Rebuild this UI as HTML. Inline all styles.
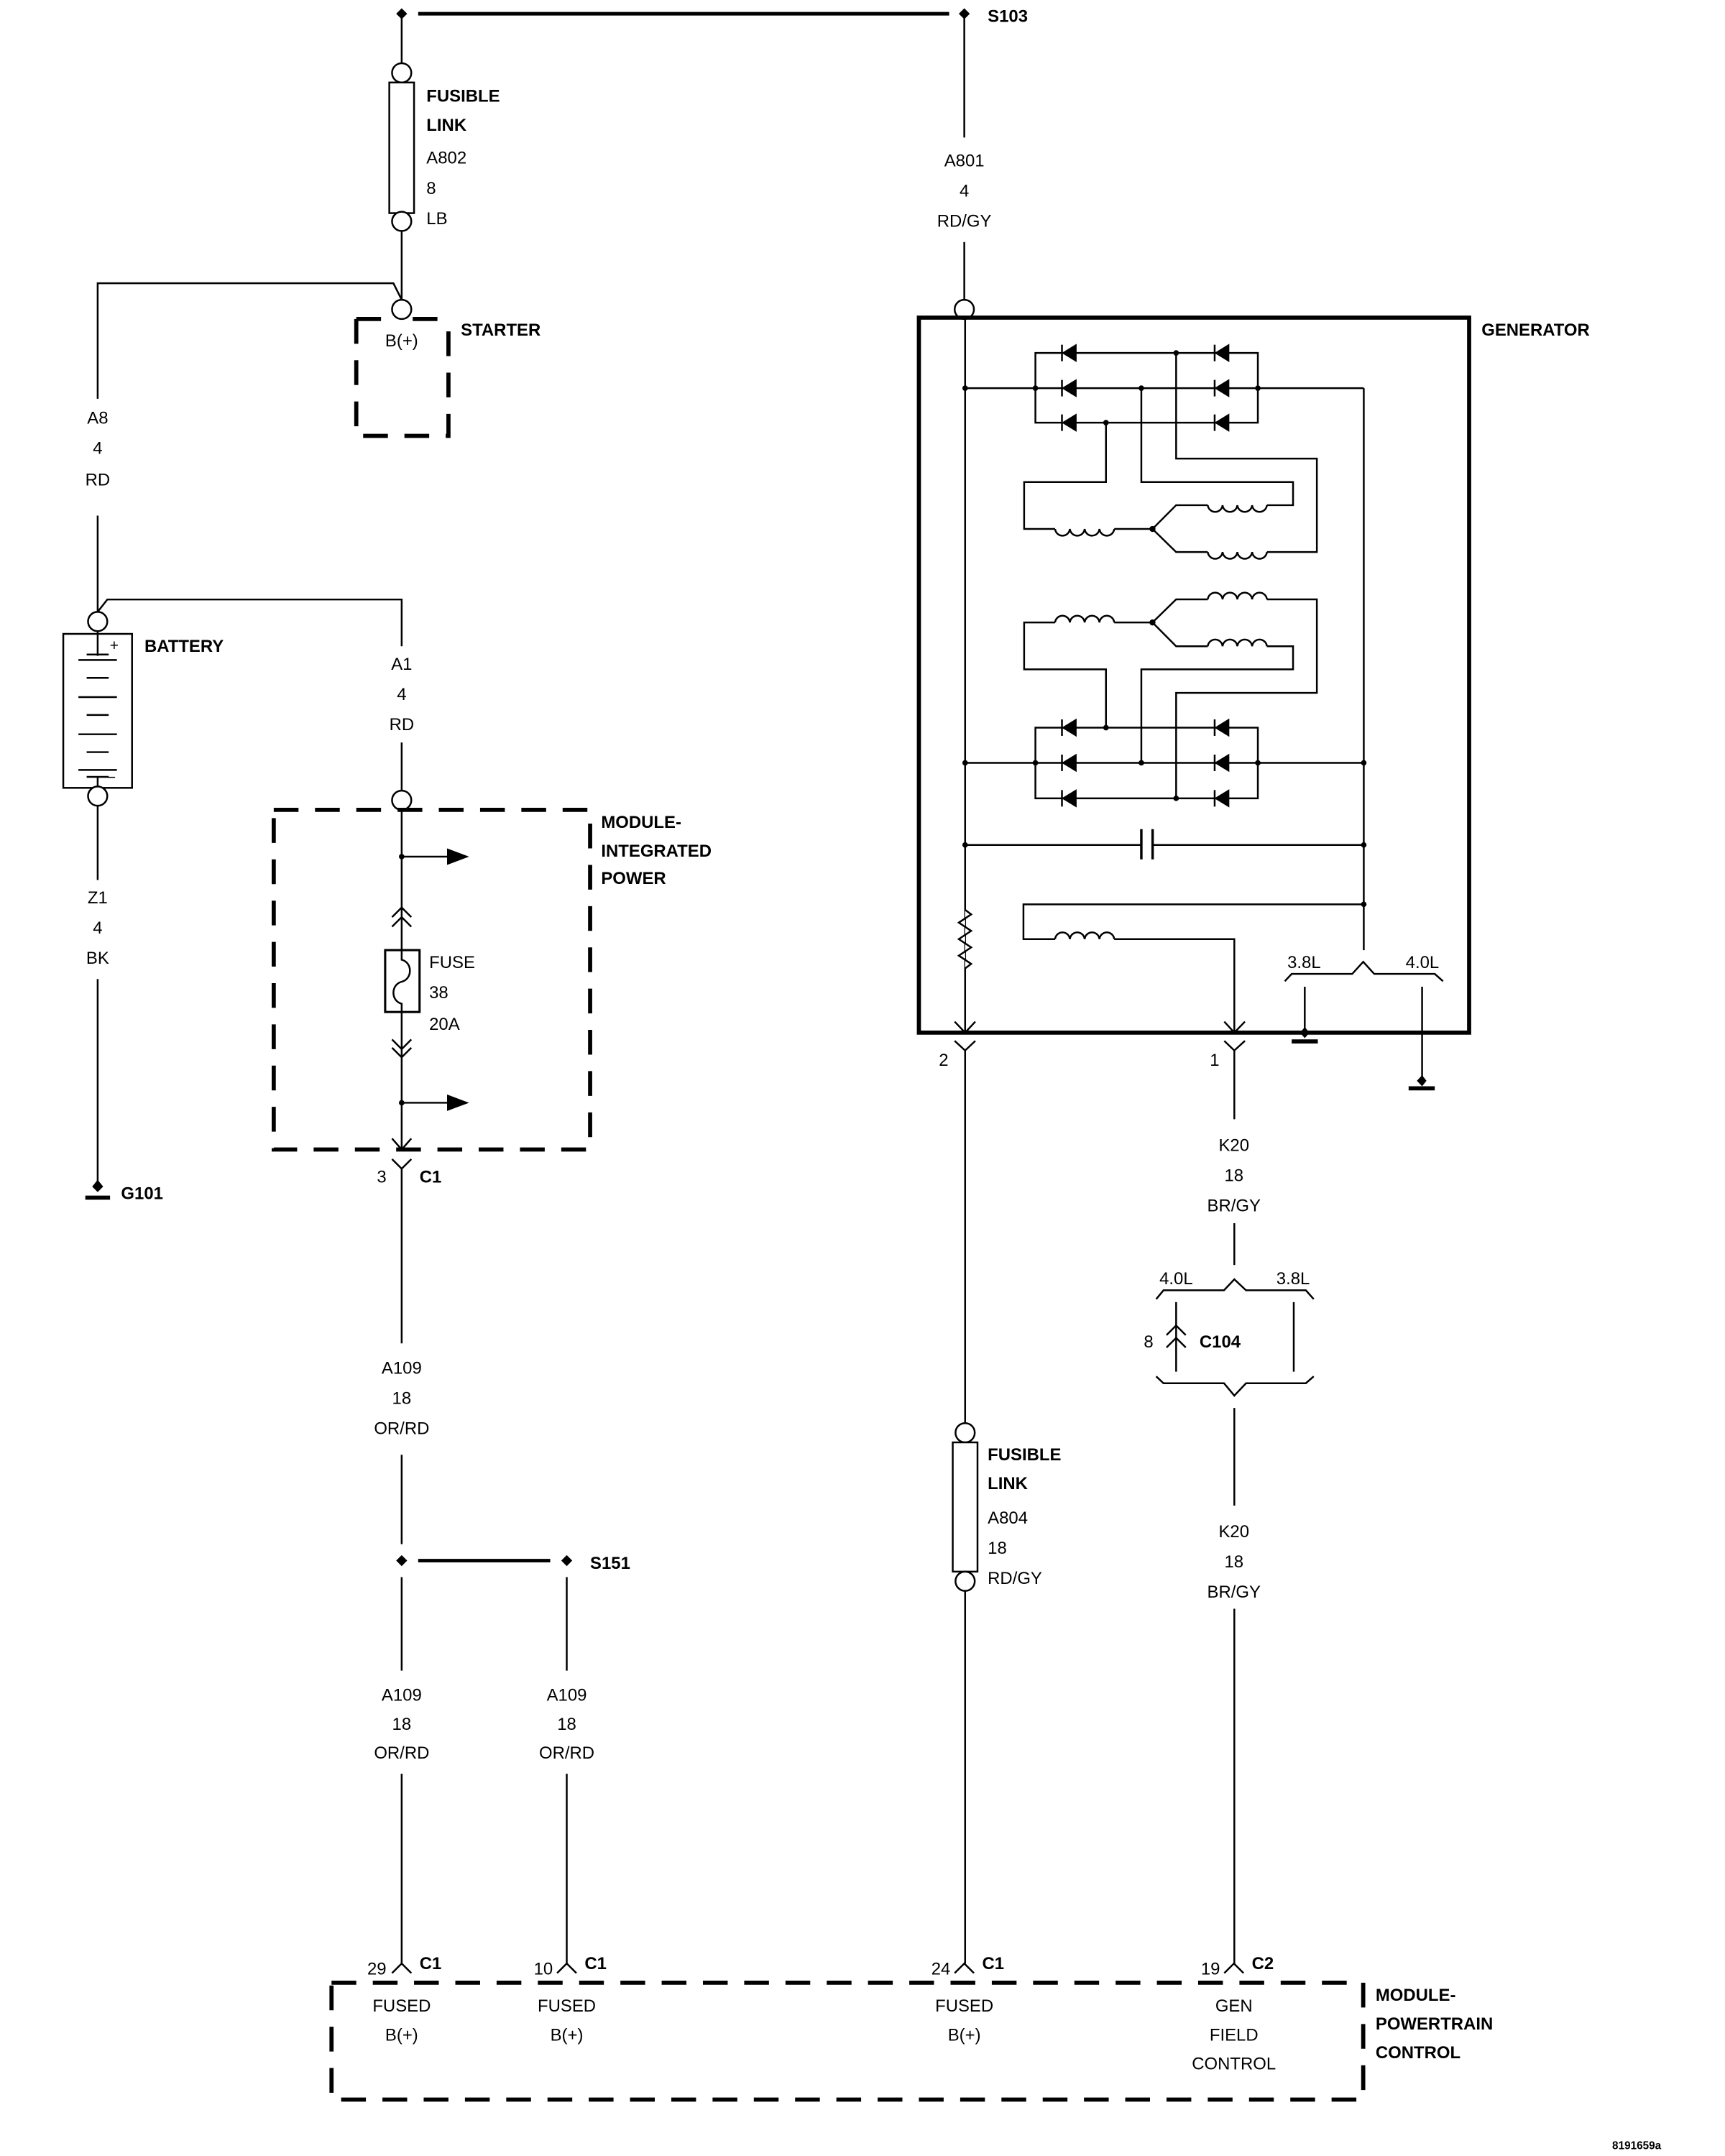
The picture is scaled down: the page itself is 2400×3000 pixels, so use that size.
<!DOCTYPE html>
<html><head><meta charset="utf-8"><style>
html,body{margin:0;padding:0;background:#fff}
svg{display:block}
text{font-family:"Liberation Sans",Arial,sans-serif;font-size:12.5px;fill:#000}
.b{font-weight:bold}
</style></head><body>
<svg width="2400" height="3000" viewBox="0 0 1254 1568" preserveAspectRatio="none" xmlns="http://www.w3.org/2000/svg">
<g fill="none" stroke="#000" stroke-width="1.3">
<line x1="304" y1="10" x2="690" y2="10" stroke-width="2.6"/>
<line x1="292" y1="10" x2="292" y2="46"/>
<circle cx="292" cy="53" r="7" fill="#fff"/>
<rect x="283" y="60" width="18" height="95" fill="#fff"/>
<circle cx="292" cy="161" r="7" fill="#fff"/>
<line x1="292" y1="168" x2="292" y2="218"/>
<circle cx="292" cy="225" r="7" fill="#fff"/>
<polyline points="71,290 71,206 286,206 292,218"/>
<path d="M259,232 H284 M300,232 H326 M259,232 V317 H326 V232" stroke-width="3" stroke-dasharray="18,12"/>
<line x1="71" y1="375" x2="71" y2="445"/>
<circle cx="71" cy="452" r="7" fill="#fff"/>
<polyline points="71,445 78,436 292,436 292,470"/>
<rect x="46" y="461" width="50" height="112"/>
<line x1="71" y1="459" x2="71" y2="477"/>
<line x1="71" y1="565" x2="71" y2="572"/>
<circle cx="71" cy="579" r="7" fill="#fff"/>
<line x1="71" y1="586" x2="71" y2="640"/>
<line x1="71" y1="712" x2="71" y2="862"/>
<line x1="62" y1="871" x2="80" y2="871" stroke-width="3"/>
<line x1="292" y1="540" x2="292" y2="575"/>
<circle cx="292" cy="582" r="7" fill="#fff"/>
<rect x="199" y="589" width="230" height="247" stroke-width="3" stroke-dasharray="18,12"/>
<line x1="292" y1="589" x2="292" y2="691"/>
<line x1="292" y1="736" x2="292" y2="836"/>
<line x1="292" y1="623" x2="325" y2="623"/>
<line x1="292" y1="802" x2="325" y2="802"/>
<polyline points="285,667 292,660 299,667"/><polyline points="285,674 292,667 299,674"/>
<polyline points="285,756 292,763 299,756"/><polyline points="285,762 292,769 299,762"/>
<rect x="280" y="691" width="25" height="45" stroke-width="1.6"/>
<path d="M292,691 V698 C300,700 300,712 292,714 C284,716 284,728 292,730 V736"/>
<polyline points="285,828 292,836 299,828"/>
<polyline points="285,843 292,850 299,843"/>
<line x1="292" y1="850" x2="292" y2="977"/>
<line x1="292" y1="1058" x2="292" y2="1123"/>
<line x1="304" y1="1135" x2="400" y2="1135" stroke-width="2.6"/>
<line x1="292" y1="1147" x2="292" y2="1215"/>
<line x1="412" y1="1147" x2="412" y2="1215"/>
<line x1="292" y1="1290" x2="292" y2="1428"/>
<line x1="412" y1="1290" x2="412" y2="1428"/>
<polyline points="285,1435 292,1428 299,1435"/>
<polyline points="405,1435 412,1428 419,1435"/>
<polyline points="694,1435 701,1428 708,1435"/>
<polyline points="890,1435 897,1428 904,1435"/>
<rect x="241" y="1442" width="750" height="85" stroke-width="3" stroke-dasharray="18,12"/>
<line x1="701" y1="10" x2="701" y2="100"/>
<line x1="701" y1="176" x2="701" y2="218"/>
<circle cx="701" cy="225" r="7" fill="#fff"/>
<rect x="668" y="231" width="400" height="520" stroke-width="3"/>
<line x1="701.6" y1="232" x2="701.6" y2="751"/>
<polyline points="855,256.7 752.7,256.7 752.7,307.4 914.4,307.4 914.4,256.7 855,256.7"/>
<line x1="701.6" y1="282.3" x2="991.4" y2="282.3"/>
<line x1="991.4" y1="282.3" x2="991.4" y2="691"/>
<polyline points="804,307.4 804,350.6 744.5,350.6 744.5,384.7 767,384.7"/>
<polyline points="810,384.7 837.8,384.7 855,367.4 878,367.4"/>
<polyline points="837.8,384.7 855,401.5 878,401.5"/>
<polyline points="829.7,282.3 829.7,350.6 940,350.6 940,367.4 921,367.4"/>
<polyline points="855,256.7 855,333.5 957.3,333.5 957.3,401.5 921,401.5"/>
<path d="M767,384.7 a5.4,5.4 0 0 0 10.75,0 a5.4,5.4 0 0 0 10.75,0 a5.4,5.4 0 0 0 10.75,0 a5.4,5.4 0 0 0 10.75,0"/>
<path d="M878,367.4 a5.4,5.4 0 0 0 10.75,0 a5.4,5.4 0 0 0 10.75,0 a5.4,5.4 0 0 0 10.75,0 a5.4,5.4 0 0 0 10.75,0"/>
<path d="M878,401.5 a5.4,5.4 0 0 0 10.75,0 a5.4,5.4 0 0 0 10.75,0 a5.4,5.4 0 0 0 10.75,0 a5.4,5.4 0 0 0 10.75,0"/>
<polyline points="767,452.7 744.5,452.7 744.5,486.8 804,486.8 804,529.2"/>
<polyline points="810,452.7 837.8,452.7 855,435.9 878,435.9"/>
<polyline points="837.8,452.7 855,470 878,470"/>
<polyline points="921,435.9 957.3,435.9 957.3,503.9 855,503.9 855,580.6"/>
<polyline points="921,470 940,470 940,486.8 829.7,486.8 829.7,554.8"/>
<path d="M767,452.7 a5.4,5.4 0 0 1 10.75,0 a5.4,5.4 0 0 1 10.75,0 a5.4,5.4 0 0 1 10.75,0 a5.4,5.4 0 0 1 10.75,0"/>
<path d="M878,435.9 a5.4,5.4 0 0 1 10.75,0 a5.4,5.4 0 0 1 10.75,0 a5.4,5.4 0 0 1 10.75,0 a5.4,5.4 0 0 1 10.75,0"/>
<path d="M878,470 a5.4,5.4 0 0 1 10.75,0 a5.4,5.4 0 0 1 10.75,0 a5.4,5.4 0 0 1 10.75,0 a5.4,5.4 0 0 1 10.75,0"/>
<polyline points="855,529.2 752.7,529.2 752.7,580.6 914.4,580.6 914.4,529.2 855,529.2"/>
<line x1="701.6" y1="554.8" x2="991.4" y2="554.8"/>
<line x1="701.6" y1="614.5" x2="829.7" y2="614.5"/>
<line x1="837.9" y1="614.5" x2="991.4" y2="614.5"/>
<line x1="829.7" y1="603" x2="829.7" y2="625" stroke-width="1.8"/>
<line x1="837.9" y1="603" x2="837.9" y2="625" stroke-width="1.8"/>
<polyline points="991.4,657.7 744,657.7 744,683 767,683"/>
<polyline points="810,683 897.3,683 897.3,751"/>
<path d="M767,683 a5.4,5.4 0 0 1 10.75,0 a5.4,5.4 0 0 1 10.75,0 a5.4,5.4 0 0 1 10.75,0 a5.4,5.4 0 0 1 10.75,0"/>
<polyline points="701.6,661.7 706,665 697,671 706,677 697,683 706,689 697,695 706,701 701.6,704.3" fill="#fff"/>
<polyline points="694,743 701.6,751 709,743"/>
<polyline points="890,743 897.3,751 905,743"/>
<polyline points="934,713.6 939,708.3 983,708.3 991,699.5 999,708.3 1043,708.3 1049,713.6"/>
<line x1="948.5" y1="717.6" x2="948.5" y2="751"/>
<line x1="939" y1="757.4" x2="958" y2="757.4" stroke-width="3"/>
<line x1="1033.8" y1="717.6" x2="1033.8" y2="785.6"/>
<line x1="1024" y1="791.5" x2="1043" y2="791.5" stroke-width="3"/>
<polyline points="694,757 701.6,764 709,757"/>
<line x1="701.6" y1="764" x2="701.6" y2="1035"/>
<polyline points="890,757 897.3,764 905,757"/>
<line x1="897.3" y1="764" x2="897.3" y2="814"/>
<line x1="897.3" y1="889.6" x2="897.3" y2="920"/>
<polyline points="840.5,944.8 845.8,938.4 889.8,938.4 897.3,930.4 905.8,938.4 949.3,938.4 955,944.8"/>
<line x1="855" y1="947" x2="855" y2="997.6"/>
<polyline points="848,971 855,964 862,971"/>
<polyline points="848,980 855,973 862,980"/>
<line x1="940.5" y1="947" x2="940.5" y2="997.6"/>
<polyline points="840.5,1001 845.8,1006 889.8,1006 897.3,1015 905.8,1006 949.3,1006 955,1001"/>
<line x1="897.3" y1="1024" x2="897.3" y2="1095"/>
<line x1="897.3" y1="1170" x2="897.3" y2="1428"/>
<circle cx="701.6" cy="1042" r="7" fill="#fff"/>
<rect x="692.6" y="1049" width="18" height="94" fill="#fff"/>
<circle cx="701.6" cy="1150" r="7" fill="#fff"/>
<line x1="701.6" y1="1157" x2="701.6" y2="1428"/>
</g>
<g fill="#000">
<polygon points="325,617 341,623 325,629"/>
<polygon points="325,796 341,802 325,808"/>
<polygon points="292,6 296,10 292,14 288,10"/>
<polygon points="701,6 705,10 701,14 697,10"/>
<polygon points="292,1131 296,1135 292,1139 288,1135"/>
<polygon points="412,1131 416,1135 412,1139 408,1135"/>
<polygon points="71,858 75,863 71,867 67,863"/>
<polygon points="948.5,747 952,751 948.5,755 945,751"/>
<polygon points="1033.8,782 1037,786 1033.8,790 1030,786"/>
<circle cx="292" cy="623" r="2"/><circle cx="292" cy="802" r="2"/>
<circle cx="701.6" cy="282.3" r="2"/><circle cx="752.7" cy="282.3" r="2"/><circle cx="914.4" cy="282.3" r="2"/>
<circle cx="855" cy="256.7" r="2"/><circle cx="829.7" cy="282.3" r="2"/><circle cx="804" cy="307.4" r="2"/>
<circle cx="837.8" cy="384.7" r="2.2"/><circle cx="837.8" cy="452.7" r="2.2"/>
<circle cx="804" cy="529.2" r="2"/><circle cx="829.7" cy="554.8" r="2"/><circle cx="855" cy="580.6" r="2"/>
<circle cx="701.6" cy="554.8" r="2"/><circle cx="752.7" cy="554.8" r="2"/><circle cx="914.4" cy="554.8" r="2"/><circle cx="991.4" cy="554.8" r="2"/>
<circle cx="701.6" cy="614.5" r="2"/><circle cx="991.4" cy="614.5" r="2"/><circle cx="991.4" cy="657.7" r="2"/>
</g>
<g fill="#000" stroke="#000" stroke-width="1.3">
<g transform="translate(0,256.7)"><polygon points="773,0 782,-5.5 782,5.5"/><line x1="772" y1="-6" x2="772" y2="6"/><polygon points="884,0 893,-5.5 893,5.5"/><line x1="883" y1="-6" x2="883" y2="6"/></g>
<g transform="translate(0,282.3)"><polygon points="773,0 782,-5.5 782,5.5"/><line x1="772" y1="-6" x2="772" y2="6"/><polygon points="884,0 893,-5.5 893,5.5"/><line x1="883" y1="-6" x2="883" y2="6"/></g>
<g transform="translate(0,307.4)"><polygon points="773,0 782,-5.5 782,5.5"/><line x1="772" y1="-6" x2="772" y2="6"/><polygon points="884,0 893,-5.5 893,5.5"/><line x1="883" y1="-6" x2="883" y2="6"/></g>
<g transform="translate(0,529.2)"><polygon points="773,0 782,-5.5 782,5.5"/><line x1="772" y1="-6" x2="772" y2="6"/><polygon points="884,0 893,-5.5 893,5.5"/><line x1="883" y1="-6" x2="883" y2="6"/></g>
<g transform="translate(0,554.8)"><polygon points="773,0 782,-5.5 782,5.5"/><line x1="772" y1="-6" x2="772" y2="6"/><polygon points="884,0 893,-5.5 893,5.5"/><line x1="883" y1="-6" x2="883" y2="6"/></g>
<g transform="translate(0,580.6)"><polygon points="773,0 782,-5.5 782,5.5"/><line x1="772" y1="-6" x2="772" y2="6"/><polygon points="884,0 893,-5.5 893,5.5"/><line x1="883" y1="-6" x2="883" y2="6"/></g>
</g>
<g stroke="#000" stroke-width="1.3">
<line x1="57" y1="480" x2="85" y2="480"/><line x1="63" y1="493" x2="79" y2="493"/>
<line x1="57" y1="507" x2="85" y2="507"/><line x1="63" y1="520" x2="79" y2="520"/>
<line x1="57" y1="534" x2="85" y2="534"/><line x1="63" y1="547" x2="79" y2="547"/>
<line x1="57" y1="560" x2="85" y2="560"/>
<line x1="63" y1="476" x2="79" y2="476"/>
<line x1="63" y1="565" x2="79" y2="565"/>
</g>
<g>
<text x="718" y="16" class="b">S103</text>
<text x="310" y="74" class="b">FUSIBLE</text>
<text x="310" y="95" class="b">LINK</text>
<text x="310" y="119">A802</text>
<text x="310" y="141">8</text>
<text x="310" y="163">LB</text>
<text x="335" y="244" class="b">STARTER</text>
<text x="292" y="252" text-anchor="middle">B(+)</text>
<text x="71" y="308" text-anchor="middle">A8</text>
<text x="71" y="330" text-anchor="middle">4</text>
<text x="71" y="353" text-anchor="middle">RD</text>
<text x="105" y="474" class="b">BATTERY</text>
<text x="83" y="473" text-anchor="middle" style="font-size:11px">+</text>
<text x="81" y="569" text-anchor="middle" style="font-size:11px">−</text>
<text x="292" y="487" text-anchor="middle">A1</text>
<text x="292" y="509" text-anchor="middle">4</text>
<text x="292" y="531" text-anchor="middle">RD</text>
<text x="71" y="657" text-anchor="middle">Z1</text>
<text x="71" y="679" text-anchor="middle">4</text>
<text x="71" y="701" text-anchor="middle">BK</text>
<text x="88" y="872" class="b">G101</text>
<text x="437" y="602" class="b">MODULE-</text>
<text x="437" y="623" class="b">INTEGRATED</text>
<text x="437" y="643" class="b">POWER</text>
<text x="312" y="704">FUSE</text>
<text x="312" y="726">38</text>
<text x="312" y="749">20A</text>
<text x="274" y="860">3</text>
<text x="305" y="860" class="b">C1</text>
<text x="292" y="999" text-anchor="middle">A109</text>
<text x="292" y="1021" text-anchor="middle">18</text>
<text x="292" y="1043" text-anchor="middle">OR/RD</text>
<text x="429" y="1141" class="b">S151</text>
<text x="292" y="1237" text-anchor="middle">A109</text>
<text x="292" y="1258" text-anchor="middle">18</text>
<text x="292" y="1279" text-anchor="middle">OR/RD</text>
<text x="412" y="1237" text-anchor="middle">A109</text>
<text x="412" y="1258" text-anchor="middle">18</text>
<text x="412" y="1279" text-anchor="middle">OR/RD</text>
<text x="267" y="1436">29</text><text x="305" y="1432" class="b">C1</text>
<text x="388" y="1436">10</text><text x="425" y="1432" class="b">C1</text>
<text x="677" y="1436">24</text><text x="714" y="1432" class="b">C1</text>
<text x="873" y="1436">19</text><text x="910" y="1432" class="b">C2</text>
<text x="292" y="1463" text-anchor="middle">FUSED</text>
<text x="292" y="1484" text-anchor="middle">B(+)</text>
<text x="412" y="1463" text-anchor="middle">FUSED</text>
<text x="412" y="1484" text-anchor="middle">B(+)</text>
<text x="701" y="1463" text-anchor="middle">FUSED</text>
<text x="701" y="1484" text-anchor="middle">B(+)</text>
<text x="897" y="1463" text-anchor="middle">GEN</text>
<text x="897" y="1484" text-anchor="middle">FIELD</text>
<text x="897" y="1505" text-anchor="middle">CONTROL</text>
<text x="1000" y="1455" class="b">MODULE-</text>
<text x="1000" y="1476" class="b">POWERTRAIN</text>
<text x="1000" y="1497" class="b">CONTROL</text>
<text x="701" y="121" text-anchor="middle">A801</text>
<text x="701" y="143" text-anchor="middle">4</text>
<text x="701" y="165" text-anchor="middle">RD/GY</text>
<text x="1077" y="244" class="b">GENERATOR</text>
<text x="948" y="704" text-anchor="middle">3.8L</text>
<text x="1034" y="704" text-anchor="middle">4.0L</text>
<text x="686" y="775" text-anchor="middle">2</text>
<text x="883" y="775" text-anchor="middle">1</text>
<text x="897" y="837" text-anchor="middle">K20</text>
<text x="897" y="859" text-anchor="middle">18</text>
<text x="897" y="881" text-anchor="middle">BR/GY</text>
<text x="855" y="934" text-anchor="middle">4.0L</text>
<text x="940" y="934" text-anchor="middle">3.8L</text>
<text x="835" y="980" text-anchor="middle">8</text>
<text x="872" y="980" class="b">C104</text>
<text x="897" y="1118" text-anchor="middle">K20</text>
<text x="897" y="1140" text-anchor="middle">18</text>
<text x="897" y="1162" text-anchor="middle">BR/GY</text>
<text x="718" y="1062" class="b">FUSIBLE</text>
<text x="718" y="1083" class="b">LINK</text>
<text x="718" y="1108">A804</text>
<text x="718" y="1130">18</text>
<text x="718" y="1152">RD/GY</text>
<text x="1172" y="1563" class="b" style="font-size:8px">8191659a</text>
</g>
</svg>
</body></html>
